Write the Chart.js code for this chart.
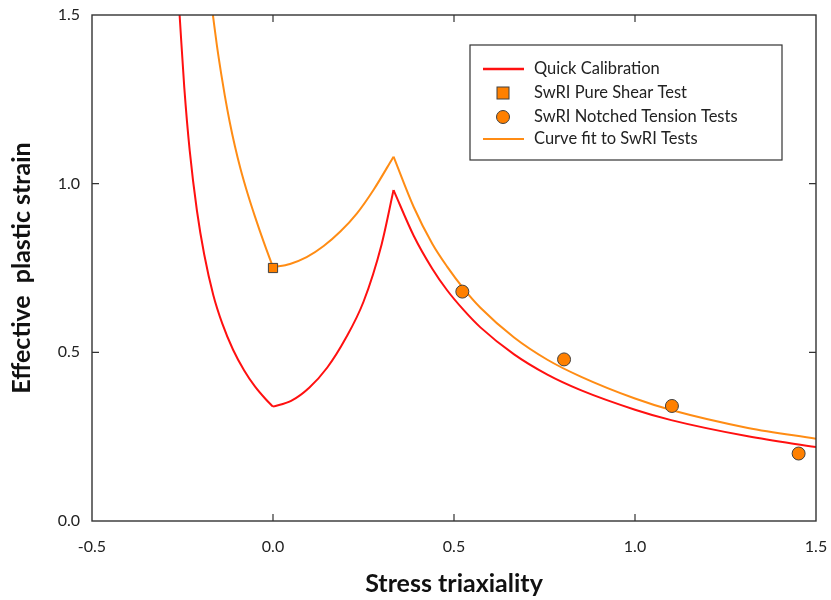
<!DOCTYPE html>
<html>
<head>
<meta charset="utf-8">
<script src="https://cdn.jsdelivr.net/npm/chart.js@4.4.1/dist/chart.umd.min.js"></script>
<style>
  html, body { margin: 0; padding: 0; background: #ffffff; }
  #wrap { width: 831px; height: 600px; position: relative; }
</style>
</head>
<body>
<div id="wrap"><canvas id="c" width="831" height="600"></canvas></div>
<script>
// ---- data ----
const xTicks = [-0.5, 0.0, 0.5, 1.0, 1.5];
const yTicks = [0.0, 0.5, 1.0, 1.5];

const legendLabels = ['Quick Calibration', 'SwRI Pure Shear Test', 'SwRI Notched Tension Tests', 'Curve fit to SwRI Tests'];

// Quick Calibration (red), three branches
const redLeftX  = [-0.258, -0.245, -0.23, -0.21, -0.19, -0.165, -0.14, -0.11, -0.08, -0.05, -0.02, 0.0];
const redLeftY  = [1.5, 1.284, 1.097, 0.919, 0.79, 0.67, 0.585, 0.507, 0.447, 0.399, 0.361, 0.339];
const redMidX   = [0.0, 0.05, 0.1, 0.15, 0.2, 0.25, 0.3, 0.333];
const redMidY   = [0.339, 0.356, 0.395, 0.455, 0.54, 0.65, 0.82, 0.981];
const redRightX = [0.333, 0.389, 0.44, 0.481, 0.527, 0.573, 0.666, 0.758, 0.85, 1.0, 1.1, 1.312, 1.5];
const redRightY = [0.981, 0.845, 0.748, 0.684, 0.625, 0.574, 0.494, 0.434, 0.388, 0.33, 0.299, 0.251, 0.219];

// Curve fit to SwRI Tests (orange), three branches
const orgLeftX  = [-0.166, -0.155, -0.143, -0.133, -0.12, -0.105, -0.09, -0.07, -0.05, -0.025, 0.0];
const orgLeftY  = [1.5, 1.41, 1.325, 1.26, 1.185, 1.11, 1.045, 0.97, 0.903, 0.825, 0.752];
const orgMidX   = [0.0, 0.047, 0.093, 0.14, 0.186, 0.232, 0.278, 0.333];
const orgMidY   = [0.752, 0.762, 0.782, 0.815, 0.858, 0.912, 0.982, 1.08];
const orgRightX = [0.333, 0.389, 0.44, 0.481, 0.527, 0.573, 0.666, 0.758, 0.85, 1.0, 1.1, 1.312, 1.5];
const orgRightY = [1.08, 0.93, 0.822, 0.754, 0.688, 0.632, 0.544, 0.478, 0.428, 0.363, 0.329, 0.276, 0.244];

// Test points
const shearX = [0.0];
const shearY = [0.75];
const notchX = [0.523, 0.804, 1.102, 1.452];
const notchY = [0.68, 0.479, 0.341, 0.2];

// ---- styles ----
const RED = '#ff1010';
const ORANGE = '#ff8c14';
const MARKER = '#ff8000';
const MARKER_EDGE = '#404040';
const FONT = 'Lato, "Open Sans", "DejaVu Sans", sans-serif';

const pts = (xs, ys) => xs.map((x, i) => ({ x: x, y: ys[i] }));

function curve(label, xs, ys, color, order) {
  return {
    label: label, data: pts(xs, ys), showLine: true,
    borderColor: color, backgroundColor: color, borderWidth: 2,
    pointRadius: 0, pointHoverRadius: 0, cubicInterpolationMode: 'monotone',
    fill: false, order: order
  };
}

const datasets = [
  curve(legendLabels[0], redLeftX, redLeftY, RED, 3),
  curve(legendLabels[0], redMidX, redMidY, RED, 3),
  curve(legendLabels[0], redRightX, redRightY, RED, 3),
  curve(legendLabels[3], orgLeftX, orgLeftY, ORANGE, 2),
  curve(legendLabels[3], orgMidX, orgMidY, ORANGE, 2),
  curve(legendLabels[3], orgRightX, orgRightY, ORANGE, 2),
  {
    label: legendLabels[1], data: pts(shearX, shearY), showLine: false,
    pointStyle: 'rect', pointRadius: 6.5, backgroundColor: MARKER,
    borderColor: MARKER_EDGE, borderWidth: 1, order: 1
  },
  {
    label: legendLabels[2], data: pts(notchX, notchY), showLine: false,
    pointStyle: 'circle', pointRadius: 6.5, backgroundColor: MARKER,
    borderColor: MARKER_EDGE, borderWidth: 1, order: 1
  }
];

// frame with inward ticks on all four sides
const framePlugin = {
  id: 'frame',
  afterDatasetsDraw(chart) {
    const ctx = chart.ctx, a = chart.chartArea;
    const xs = chart.scales.x, ys = chart.scales.y;
    const TL = 7;
    ctx.save();
    ctx.strokeStyle = '#333333';
    ctx.lineWidth = 1.4;
    ctx.strokeRect(a.left, a.top, a.right - a.left, a.bottom - a.top);
    ctx.lineWidth = 1.2;
    ctx.beginPath();
    xTicks.forEach(v => {
      const px = xs.getPixelForValue(v);
      if (px <= a.left + 1 || px >= a.right - 1) return;
      ctx.moveTo(px, a.bottom); ctx.lineTo(px, a.bottom - TL);
      ctx.moveTo(px, a.top); ctx.lineTo(px, a.top + TL);
    });
    yTicks.forEach(v => {
      const py = ys.getPixelForValue(v);
      if (py <= a.top + 1 || py >= a.bottom - 1) return;
      ctx.moveTo(a.left, py); ctx.lineTo(a.left + TL, py);
      ctx.moveTo(a.right, py); ctx.lineTo(a.right - TL, py);
    });
    ctx.stroke();
    ctx.restore();
  }
};

// boxed legend inside the plot area
const legendPlugin = {
  id: 'boxLegend',
  afterDraw(chart) {
    const ctx = chart.ctx;
    const box = { left: 470, top: 45, right: 782, bottom: 160 };
    ctx.save();
    ctx.fillStyle = '#ffffff';
    ctx.fillRect(box.left, box.top, box.right - box.left, box.bottom - box.top);
    ctx.strokeStyle = '#333333';
    ctx.lineWidth = 1.2;
    ctx.strokeRect(box.left, box.top, box.right - box.left, box.bottom - box.top);
    const rows = [69, 93, 117, 139];
    const symX = 503, textX = 534;
    ctx.font = '16.5px ' + FONT;
    ctx.textBaseline = 'middle';
    ctx.textAlign = 'left';
    // row 1: red line
    ctx.strokeStyle = RED; ctx.lineWidth = 2.5;
    ctx.beginPath(); ctx.moveTo(483, rows[0]); ctx.lineTo(524, rows[0]); ctx.stroke();
    // row 2: square
    ctx.fillStyle = MARKER; ctx.strokeStyle = MARKER_EDGE; ctx.lineWidth = 1;
    ctx.fillRect(symX - 6, rows[1] - 6, 12, 12);
    ctx.strokeRect(symX - 6, rows[1] - 6, 12, 12);
    // row 3: circle
    ctx.beginPath(); ctx.arc(symX, rows[2], 6.5, 0, Math.PI * 2);
    ctx.fill(); ctx.stroke();
    // row 4: orange line
    ctx.strokeStyle = ORANGE; ctx.lineWidth = 2;
    ctx.beginPath(); ctx.moveTo(483, rows[3]); ctx.lineTo(524, rows[3]); ctx.stroke();
    ctx.fillStyle = '#222222';
    legendLabels.forEach((t, i) => ctx.fillText(t, textX, rows[i]));
    ctx.restore();
  }
};

new Chart(document.getElementById('c'), {
  type: 'scatter',
  data: { datasets: datasets },
  options: {
    responsive: false,
    animation: false,
    layout: { padding: { top: 15, right: 15, left: 0, bottom: 0 } },
    plugins: {
      legend: { display: false },
      tooltip: { enabled: false }
    },
    scales: {
      x: {
        type: 'linear', min: -0.5, max: 1.5,
        afterBuildTicks: s => { s.ticks = xTicks.map(v => ({ value: v })); },
        afterFit: s => { s.height = 79; s.paddingLeft = 0; s.paddingRight = 0; },
        grid: { display: false, drawTicks: false },
        border: { display: false },
        ticks: {
          padding: 16, color: '#222222', font: { family: FONT, size: 16 },
          callback: v => Number(v).toFixed(1), maxRotation: 0
        },
        title: {
          display: true, text: 'Stress triaxiality', color: '#111111',
          font: { family: FONT, size: 25, weight: 'bold' },
          padding: { top: 0, bottom: 1 }
        }
      },
      y: {
        type: 'linear', min: 0, max: 1.5,
        afterBuildTicks: s => { s.ticks = yTicks.map(v => ({ value: v })); },
        afterFit: s => { s.width = 92; s.paddingTop = 0; s.paddingBottom = 0; },
        grid: { display: false, drawTicks: false },
        border: { display: false },
        ticks: {
          padding: 12, color: '#222222', font: { family: FONT, size: 16 },
          callback: v => Number(v).toFixed(1)
        },
        title: {
          display: true, text: 'Effective  plastic strain', color: '#111111',
          font: { family: FONT, size: 25, weight: 'bold' },
          padding: { top: 7, bottom: 0 }
        }
      }
    }
  },
  plugins: [framePlugin, legendPlugin]
});
</script>
</body>
</html>
